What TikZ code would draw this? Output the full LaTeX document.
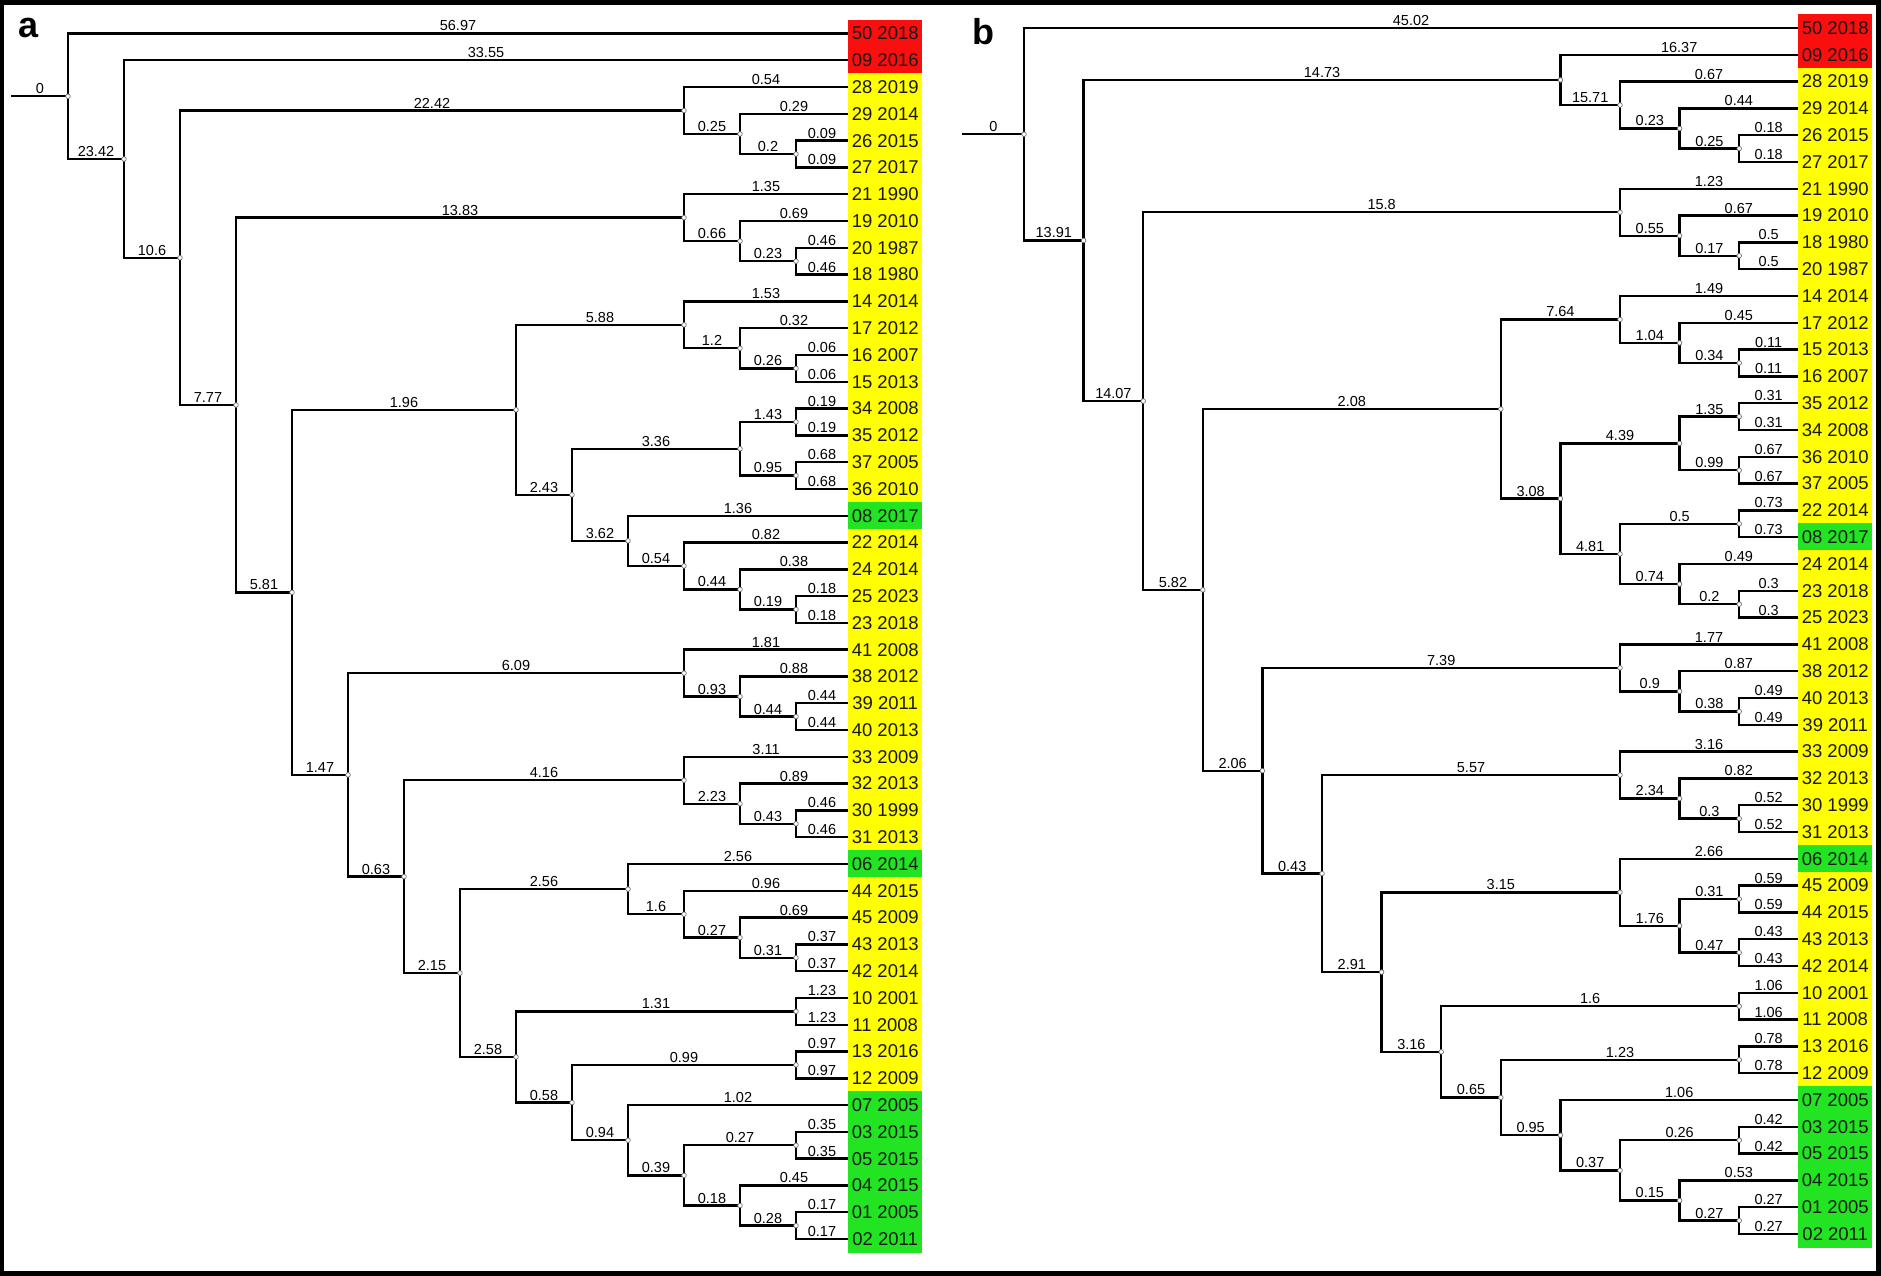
\documentclass[tikz,border=0pt]{standalone}
\usepackage{fontspec}
\setmainfont{Liberation Sans}
\usetikzlibrary{calc}
\pgfdeclarelayer{bg}
\pgfsetlayers{bg,main}
\definecolor{cR}{RGB}{250,14,14}
\definecolor{cY}{RGB}{255,255,0}
\definecolor{cG}{RGB}{34,228,34}
\tikzset{
  br/.style={line width=2.4pt, draw=black, line cap=rect},
  lab/.style={anchor=south, inner sep=1.2pt, font=\fontsize{14.5}{15}\selectfont, text=black},
  leafbox/.style={anchor=west, minimum width=74pt, minimum height=27.5pt, inner sep=0pt,
                  font=\fontsize{18.5}{19}\selectfont, text=black!90},
  dot/.style={draw=black!55, fill=white, line width=0.7pt},
  panel/.style={font=\bfseries\fontsize{36}{36}\selectfont, inner sep=0pt}
}
\newcommand\LF[4]{\node[leafbox, fill=#4] (#1) at (\Bx, {\Yo+#2*\Dy}) {#3};}
\newcommand\ND[6]{%
  \coordinate (lvtmp) at ({\Xo+#2*\Dx},0);
  \coordinate (mtmp) at ($(#3)!0.5!(#5)$);
  \coordinate (#1) at (mtmp -| lvtmp);
  \begin{pgfonlayer}{bg}
  \draw[br] (#3) -| node[lab,pos=.25]{#4} (#1) |- node[lab,pos=.75]{#6} (#5);
  \end{pgfonlayer}
  \path[dot] (#1) circle (2.3pt);
}
\begin{document}
\begin{tikzpicture}[x=1pt,y=-1pt]
\useasboundingbox (0,0) rectangle (1881,1276);
\begin{pgfonlayer}{bg}
\fill[black] (0,0) rectangle (1881,1276);
\fill[white] (4,5) rectangle (1876,1271);
\end{pgfonlayer}
\node[panel] (la) at (29,28) {a};
\node[panel] (lb) at (983,32) {b};
% ---------------- panel a ----------------
\def\Xo{68}\def\Dx{56}\def\Yo{33.5}\def\Dy{26.79}\def\Bx{848}
\LF{a0}{0}{50 2018}{cR}
\LF{a1}{1}{09 2016}{cR}
\LF{a2}{2}{28 2019}{cY}
\LF{a3}{3}{29 2014}{cY}
\LF{a4}{4}{26 2015}{cY}
\LF{a5}{5}{27 2017}{cY}
\LF{a6}{6}{21 1990}{cY}
\LF{a7}{7}{19 2010}{cY}
\LF{a8}{8}{20 1987}{cY}
\LF{a9}{9}{18 1980}{cY}
\LF{a10}{10}{14 2014}{cY}
\LF{a11}{11}{17 2012}{cY}
\LF{a12}{12}{16 2007}{cY}
\LF{a13}{13}{15 2013}{cY}
\LF{a14}{14}{34 2008}{cY}
\LF{a15}{15}{35 2012}{cY}
\LF{a16}{16}{37 2005}{cY}
\LF{a17}{17}{36 2010}{cY}
\LF{a18}{18}{08 2017}{cG}
\LF{a19}{19}{22 2014}{cY}
\LF{a20}{20}{24 2014}{cY}
\LF{a21}{21}{25 2023}{cY}
\LF{a22}{22}{23 2018}{cY}
\LF{a23}{23}{41 2008}{cY}
\LF{a24}{24}{38 2012}{cY}
\LF{a25}{25}{39 2011}{cY}
\LF{a26}{26}{40 2013}{cY}
\LF{a27}{27}{33 2009}{cY}
\LF{a28}{28}{32 2013}{cY}
\LF{a29}{29}{30 1999}{cY}
\LF{a30}{30}{31 2013}{cY}
\LF{a31}{31}{06 2014}{cG}
\LF{a32}{32}{44 2015}{cY}
\LF{a33}{33}{45 2009}{cY}
\LF{a34}{34}{43 2013}{cY}
\LF{a35}{35}{42 2014}{cY}
\LF{a36}{36}{10 2001}{cY}
\LF{a37}{37}{11 2008}{cY}
\LF{a38}{38}{13 2016}{cY}
\LF{a39}{39}{12 2009}{cY}
\LF{a40}{40}{07 2005}{cG}
\LF{a41}{41}{03 2015}{cG}
\LF{a42}{42}{05 2015}{cG}
\LF{a43}{43}{04 2015}{cG}
\LF{a44}{44}{01 2005}{cG}
\LF{a45}{45}{02 2011}{cG}
\ND{A6}{13}{a4.west}{0.09}{a5.west}{0.09}
\ND{A5}{12}{a3.west}{0.29}{A6}{0.2}
\ND{A3}{11}{a2.west}{0.54}{A5}{0.25}
\ND{A10}{13}{a8.west}{0.46}{a9.west}{0.46}
\ND{A9}{12}{a7.west}{0.69}{A10}{0.23}
\ND{A7}{11}{a6.west}{1.35}{A9}{0.66}
\ND{A16}{13}{a12.west}{0.06}{a13.west}{0.06}
\ND{A15}{12}{a11.west}{0.32}{A16}{0.26}
\ND{A13}{11}{a10.west}{1.53}{A15}{1.2}
\ND{A19}{13}{a14.west}{0.19}{a15.west}{0.19}
\ND{A20}{13}{a16.west}{0.68}{a17.west}{0.68}
\ND{A17}{12}{A19}{1.43}{A20}{0.95}
\ND{A23}{13}{a21.west}{0.18}{a22.west}{0.18}
\ND{A22}{12}{a20.west}{0.38}{A23}{0.19}
\ND{A21}{11}{a19.west}{0.82}{A22}{0.44}
\ND{A18}{10}{a18.west}{1.36}{A21}{0.54}
\ND{A14}{9}{A17}{3.36}{A18}{3.62}
\ND{A11}{8}{A13}{5.88}{A14}{2.43}
\ND{A27}{13}{a25.west}{0.44}{a26.west}{0.44}
\ND{A26}{12}{a24.west}{0.88}{A27}{0.44}
\ND{A24}{11}{a23.west}{1.81}{A26}{0.93}
\ND{A31}{13}{a29.west}{0.46}{a30.west}{0.46}
\ND{A30}{12}{a28.west}{0.89}{A31}{0.43}
\ND{A28}{11}{a27.west}{3.11}{A30}{2.23}
\ND{A36}{13}{a34.west}{0.37}{a35.west}{0.37}
\ND{A35}{12}{a33.west}{0.69}{A36}{0.31}
\ND{A34}{11}{a32.west}{0.96}{A35}{0.27}
\ND{A32}{10}{a31.west}{2.56}{A34}{1.6}
\ND{A37}{13}{a36.west}{1.23}{a37.west}{1.23}
\ND{A39}{13}{a38.west}{0.97}{a39.west}{0.97}
\ND{A42}{13}{a41.west}{0.35}{a42.west}{0.35}
\ND{A44}{13}{a44.west}{0.17}{a45.west}{0.17}
\ND{A43}{12}{a43.west}{0.45}{A44}{0.28}
\ND{A41}{11}{A42}{0.27}{A43}{0.18}
\ND{A40}{10}{a40.west}{1.02}{A41}{0.39}
\ND{A38}{9}{A39}{0.99}{A40}{0.94}
\ND{A33}{8}{A37}{1.31}{A38}{0.58}
\ND{A29}{7}{A32}{2.56}{A33}{2.58}
\ND{A25}{6}{A28}{4.16}{A29}{2.15}
\ND{A12}{5}{A24}{6.09}{A25}{0.63}
\ND{A8}{4}{A11}{1.96}{A12}{1.47}
\ND{A4}{3}{A7}{13.83}{A8}{5.81}
\ND{A2}{2}{A3}{22.42}{A4}{7.77}
\ND{A1}{1}{a1.west}{33.55}{A2}{10.6}
\ND{A0}{0}{a0.west}{56.97}{A1}{23.42}
\coordinate (sxa) at (12,0);
\coordinate (sa) at (A0 -| sxa);
\begin{pgfonlayer}{bg}
\draw[br] (sa) -- node[lab]{0} (A0);
\end{pgfonlayer}
% ---------------- panel b ----------------
\def\Xo{1024}\def\Dx{59.6}\def\Yo{28}\def\Dy{26.8}\def\Bx{1798}
\LF{b0}{0}{50 2018}{cR}
\LF{b1}{1}{09 2016}{cR}
\LF{b2}{2}{28 2019}{cY}
\LF{b3}{3}{29 2014}{cY}
\LF{b4}{4}{26 2015}{cY}
\LF{b5}{5}{27 2017}{cY}
\LF{b6}{6}{21 1990}{cY}
\LF{b7}{7}{19 2010}{cY}
\LF{b8}{8}{18 1980}{cY}
\LF{b9}{9}{20 1987}{cY}
\LF{b10}{10}{14 2014}{cY}
\LF{b11}{11}{17 2012}{cY}
\LF{b12}{12}{15 2013}{cY}
\LF{b13}{13}{16 2007}{cY}
\LF{b14}{14}{35 2012}{cY}
\LF{b15}{15}{34 2008}{cY}
\LF{b16}{16}{36 2010}{cY}
\LF{b17}{17}{37 2005}{cY}
\LF{b18}{18}{22 2014}{cY}
\LF{b19}{19}{08 2017}{cG}
\LF{b20}{20}{24 2014}{cY}
\LF{b21}{21}{23 2018}{cY}
\LF{b22}{22}{25 2023}{cY}
\LF{b23}{23}{41 2008}{cY}
\LF{b24}{24}{38 2012}{cY}
\LF{b25}{25}{40 2013}{cY}
\LF{b26}{26}{39 2011}{cY}
\LF{b27}{27}{33 2009}{cY}
\LF{b28}{28}{32 2013}{cY}
\LF{b29}{29}{30 1999}{cY}
\LF{b30}{30}{31 2013}{cY}
\LF{b31}{31}{06 2014}{cG}
\LF{b32}{32}{45 2009}{cY}
\LF{b33}{33}{44 2015}{cY}
\LF{b34}{34}{43 2013}{cY}
\LF{b35}{35}{42 2014}{cY}
\LF{b36}{36}{10 2001}{cY}
\LF{b37}{37}{11 2008}{cY}
\LF{b38}{38}{13 2016}{cY}
\LF{b39}{39}{12 2009}{cY}
\LF{b40}{40}{07 2005}{cG}
\LF{b41}{41}{03 2015}{cG}
\LF{b42}{42}{05 2015}{cG}
\LF{b43}{43}{04 2015}{cG}
\LF{b44}{44}{01 2005}{cG}
\LF{b45}{45}{02 2011}{cG}
\ND{B6}{12}{b4.west}{0.18}{b5.west}{0.18}
\ND{B5}{11}{b3.west}{0.44}{B6}{0.25}
\ND{B4}{10}{b2.west}{0.67}{B5}{0.23}
\ND{B2}{9}{b1.west}{16.37}{B4}{15.71}
\ND{B10}{12}{b8.west}{0.5}{b9.west}{0.5}
\ND{B9}{11}{b7.west}{0.67}{B10}{0.17}
\ND{B7}{10}{b6.west}{1.23}{B9}{0.55}
\ND{B16}{12}{b12.west}{0.11}{b13.west}{0.11}
\ND{B15}{11}{b11.west}{0.45}{B16}{0.34}
\ND{B13}{10}{b10.west}{1.49}{B15}{1.04}
\ND{B19}{12}{b14.west}{0.31}{b15.west}{0.31}
\ND{B20}{12}{b16.west}{0.67}{b17.west}{0.67}
\ND{B17}{11}{B19}{1.35}{B20}{0.99}
\ND{B21}{12}{b18.west}{0.73}{b19.west}{0.73}
\ND{B23}{12}{b21.west}{0.3}{b22.west}{0.3}
\ND{B22}{11}{b20.west}{0.49}{B23}{0.2}
\ND{B18}{10}{B21}{0.5}{B22}{0.74}
\ND{B14}{9}{B17}{4.39}{B18}{4.81}
\ND{B11}{8}{B13}{7.64}{B14}{3.08}
\ND{B27}{12}{b25.west}{0.49}{b26.west}{0.49}
\ND{B26}{11}{b24.west}{0.87}{B27}{0.38}
\ND{B24}{10}{b23.west}{1.77}{B26}{0.9}
\ND{B31}{12}{b29.west}{0.52}{b30.west}{0.52}
\ND{B30}{11}{b28.west}{0.82}{B31}{0.3}
\ND{B28}{10}{b27.west}{3.16}{B30}{2.34}
\ND{B35}{12}{b32.west}{0.59}{b33.west}{0.59}
\ND{B36}{12}{b34.west}{0.43}{b35.west}{0.43}
\ND{B34}{11}{B35}{0.31}{B36}{0.47}
\ND{B32}{10}{b31.west}{2.66}{B34}{1.76}
\ND{B37}{12}{b36.west}{1.06}{b37.west}{1.06}
\ND{B39}{12}{b38.west}{0.78}{b39.west}{0.78}
\ND{B42}{12}{b41.west}{0.42}{b42.west}{0.42}
\ND{B44}{12}{b44.west}{0.27}{b45.west}{0.27}
\ND{B43}{11}{b43.west}{0.53}{B44}{0.27}
\ND{B41}{10}{B42}{0.26}{B43}{0.15}
\ND{B40}{9}{b40.west}{1.06}{B41}{0.37}
\ND{B38}{8}{B39}{1.23}{B40}{0.95}
\ND{B33}{7}{B37}{1.6}{B38}{0.65}
\ND{B29}{6}{B32}{3.15}{B33}{3.16}
\ND{B25}{5}{B28}{5.57}{B29}{2.91}
\ND{B12}{4}{B24}{7.39}{B25}{0.43}
\ND{B8}{3}{B11}{2.08}{B12}{2.06}
\ND{B3}{2}{B7}{15.8}{B8}{5.82}
\ND{B1}{1}{B2}{14.73}{B3}{14.07}
\ND{B0}{0}{b0.west}{45.02}{B1}{13.91}
\coordinate (sxb) at (963,0);
\coordinate (sb) at (B0 -| sxb);
\begin{pgfonlayer}{bg}
\draw[br] (sb) -- node[lab]{0} (B0);
\end{pgfonlayer}
\end{tikzpicture}
\end{document}
